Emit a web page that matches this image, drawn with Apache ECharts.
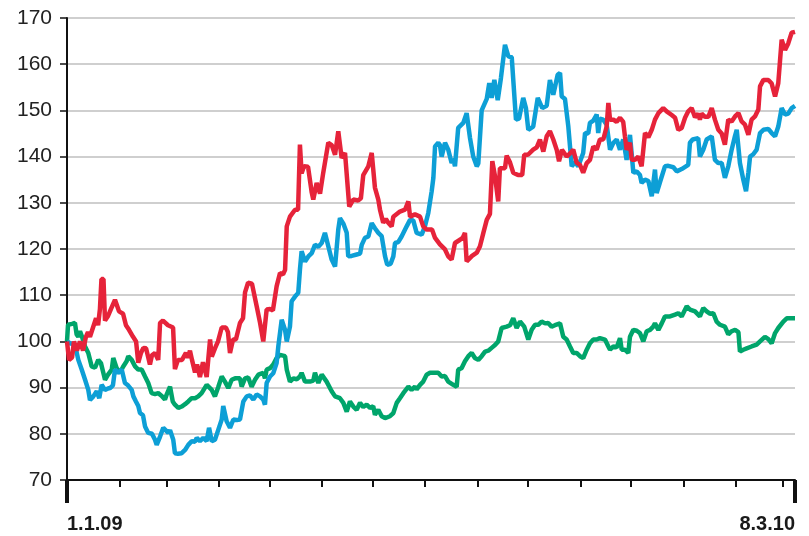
<!DOCTYPE html>
<html lang="en">
<head>
<meta charset="UTF-8">
<title>Index</title>
<script src="https://cdn.jsdelivr.net/npm/echarts@6/dist/echarts.min.js"></script>
<style>
  html, body { margin: 0; padding: 0; background: #fff; }
  #main { width: 809px; height: 536px; }
</style>
</head>
<body>
<div id="main"></div>
<script type="text/javascript">
// days counted from 1.1.09, index = 100 at start
var startLabel = '1.1.09';
var endLabel = '8.3.10';
var lastDay = 431;

var redDays = [0,1.2,3,4.1,5.9,7.7,9.5,11.2,12.4,13.6,15.4,17.2,18.4,19.5,20.4,21.6,22.5,24.3,26,28.4,30.8,33.2,34.9,36.7,39.1,40.9,42.2,43.8,45.2,46.8,49.1,50.3,52.1,54,55.1,56.8,59.8,62.8,63.9,65.7,68.1,70.4,71.6,72.8,74,75.8,77,78.7,80.5,82.7,84.7,85.7,87.6,89.4,91.6,94.1,95.3,96.5,98.3,100,102.4,104.2,105.4,107.2,109.5,112.3,114.3,116.2,118.2,120.2,121.9,124.1,126.1,127.9,129.1,130.1,132,135,136.8,137.9,138.9,140.3,142.7,144.9,145.8,147.8,149.8,151.7,154.7,156.7,158.7,160.6,162.6,164.6,167.1,169.5,172.3,174,175.4,178.4,180.4,182.3,184.3,185.3,187.2,188.8,190.2,192.2,193.2,197.1,200.1,202.1,203.1,206,209,210.9,212.9,216.1,217.9,220.8,223.8,225.7,227.7,229.7,232.7,234.4,235.6,236.6,239.8,242.6,244.5,246.5,248.5,250.4,251.8,253.4,255.3,256.3,259.3,260.3,262.3,264.2,267,269.5,270.7,272.9,276,278.1,280,282,284,285.9,287.9,289.9,291.3,293,295.8,297.8,299.7,301.7,303.7,305.6,307.7,309.6,311.6,313.6,315.5,317.5,319.5,320.5,321.5,323.5,325.4,327.4,329.3,330.3,331.3,333.3,334.3,336.2,338.2,340.2,342.2,344.2,346.2,348.1,350.1,353,355,358,360,361.9,363.9,365.9,367.8,369.8,371.8,373.7,374.7,375.7,377.7,379.7,381.7,383.6,385.6,387.6,389.5,391.5,393.5,395.5,397.5,399.4,401.4,403.4,405.3,407.3,409.3,410.3,412.3,415.2,417.2,419.2,421.1,423.1,425.1,427,429,431];
var redValues = [100,96,96.5,100,98,100,98,101,102,101,103,105,103.5,107,113.5,113.5,104.5,105.5,107,109,106.5,106,103.5,102.5,101,100,95.4,97.5,98.6,98.5,95,97,97.5,96,104,104.5,103.5,103,94,96,96,97.5,96.5,98,96,93.3,95,92.3,95.5,92.3,100.4,96.7,98.5,100,103,103,102,97.5,100.4,100.4,104,105,110.6,112.7,112.5,107.6,104,100,106.9,107,106.7,111.9,114.8,114.5,115.5,124.9,127,128.5,128.5,142.6,136.4,137.9,137.8,132.2,130.7,134.3,132,136.5,143,142.5,140.4,145.5,139.7,140.8,129.2,130.7,130.5,131,136,137.9,140.8,133.3,130.7,128.5,125.7,126.5,125.7,124.9,127,128.1,128.5,130.3,127,127.5,127,124.9,124.2,124.2,122.4,121,119.9,118.4,117.7,121.3,122,122.5,123.5,117.3,118.5,119.2,120.6,123.5,126.3,127.6,139,135.7,130.3,137.5,137.5,140.2,138.7,136.5,136,136,140.4,140.4,141.5,142,143.7,141.1,144.4,145.5,143.7,141.5,139,141.5,140,140.7,141.5,138.7,138.2,136.5,138.6,139.3,142.2,141.5,143.7,143.7,146.5,151.6,148,148,147.5,148.4,147.5,144.4,141.5,143,139.3,139.3,140,137.9,145.1,144.2,145.8,148,149.4,150.5,149.8,149,148.4,145.8,146.2,148.4,149.8,150.5,148.5,149.3,148,149.3,148.6,148.6,150.5,148,145.8,145,142.6,148,147.6,148.7,149.4,147.6,146.9,144.7,148,148.7,150.2,155.2,156.6,156.6,155.8,153,155.9,165.3,163.1,164.5,166.8,167];

var blueDays = [0,1.8,4.7,6.7,8.7,10.7,12.6,13.6,15.6,17.6,19.1,20.5,22.5,24.3,25.5,27.2,28.4,30.4,32.4,34.3,36.1,38.3,39.3,40.8,42.2,43.2,45,46.2,48.1,50.3,52.1,53.1,55.1,57,60,61,62.9,63.9,65.7,67.9,69.9,71.8,73.8,75.8,76.8,78.7,80.7,82.7,84.1,85.7,87.6,89.6,91.6,92.5,94.5,96.5,98.5,100.5,102.4,104.4,106.4,108.3,110.3,112.3,114.3,116.2,117.2,118.2,120.2,122.1,124.1,125.1,127.1,129.1,130.1,132,133,135,136.9,137.9,138.9,140.9,142.9,144.9,146.8,148.8,150.8,152.7,154.7,156.7,158.7,160.6,161.6,163.6,165.6,166.5,168.5,171.5,173.5,174.5,176.4,178.4,180.4,182.3,184.3,186.3,188.3,189.6,191.6,193.2,194.2,196.1,198.1,201.1,203.1,205,207,208,210,211.9,213.9,215.9,216.9,217.9,219.8,220.8,221.8,223.8,225.7,227.7,228.7,229.7,231.6,234.6,236.6,238.6,240.5,242.6,243.5,245.5,248.5,250,251.4,253,255,256.9,259.3,261.3,263.3,265.8,267.6,270.1,271.7,273.1,274.1,276,278.7,281.4,284,285.9,287.9,290.5,291.9,292.9,294.8,296.8,298.8,300.7,302.7,305.6,306.7,308.6,309.6,311.6,313.6,314.5,315.5,317.5,319.5,321.5,323.5,325.4,327.4,329.3,331.3,333.3,335.3,337.3,339.2,340.2,342.2,344.2,346.2,348.1,349.1,351.1,354,356,359,361,363.9,367.8,368.8,370.4,373.7,374.7,376.7,378.7,381.7,383.6,385.6,387.6,389.5,391.5,393.5,395.5,396.5,398.4,400.4,402,403.4,404.4,406.3,408.3,410.3,412.3,415.2,417.2,419.2,421.1,423.1,425.1,427,429,431];
var blueValues = [100,99.6,99.3,96,93.9,91.7,89.5,87.3,88.1,89.2,87.7,90.6,89.5,89.8,89.9,90.5,93.9,93.2,93.9,91,90.5,89.5,88.1,87,86,84.5,84,81.6,80.2,80,78.7,77.6,79.4,81.3,80.2,80.8,78.7,75.8,75.7,75.8,76.5,77.6,78.4,78.3,79.1,78.4,79.1,78.4,81.3,78.4,78.7,80.9,83.1,86,82.7,81.3,83.1,83,83.1,87,88.1,88.3,87.4,88.5,88.1,87.4,86.3,91,92.4,93.1,95.3,98.9,104.7,102.5,100,103.2,108.7,109.7,110.5,115.5,119.5,117.3,118.4,119.1,120.9,120.5,121.3,123.5,120.6,117.7,116.2,124.2,126.7,125.5,123.5,118.4,118.5,118.8,119,120.9,122.4,122.7,125.6,124.5,123.5,122.8,118.4,116.6,116.8,118.4,121.3,121.5,122.7,124.9,126.3,126.2,123.5,123.1,123.1,124.9,127.8,132.5,135.4,142.2,143,142.5,140,143,141.5,138.6,139.5,137.9,146.2,147.3,149.4,144,140,137.9,138.5,150,152.5,155.9,152.7,156.6,152.2,157,164.2,161.7,161.5,148,148.2,152.7,150.5,145.8,146,146.5,152.7,150.5,151,156.6,153.4,157.7,158.1,153,152.5,146.5,137.9,138.8,137.9,140.8,145.1,145,147.3,147.8,149.1,145.1,148.2,148,146.9,141.5,143,143.7,141.5,143.7,139.3,144.7,136.5,136.8,136,134.3,135,134.7,131.4,137.2,132.1,134.5,137.9,138,137.7,136.8,137.3,138.2,143,143.7,144,140,141.5,143.7,144.4,139.3,138.6,138.6,135.4,137.9,141.5,144.5,145.8,138.6,135,132.5,136.5,140,140.5,141.5,145.1,145.8,146,145.1,144.4,146.5,150.5,149.1,149.3,150.5,151];

var greenDays = [0,0.6,3,4.7,5.7,6.7,7.7,8.9,10.7,12.6,14.6,16.6,18.5,20.1,21.5,22.5,24.3,26.5,27.4,29.4,31.4,33.2,35.3,36.3,38.3,40.3,42.2,44.2,46.2,48.1,50.1,52.1,54,56.1,58,59,61,62.6,63.9,65.9,67.9,69.9,71.8,73.8,75.8,77.7,79.7,82.7,83.6,85.7,87.6,89.6,91.6,93.5,95.5,97.5,99.5,102.4,103.4,105.4,107.3,109.3,111.3,113.3,116.2,117.2,118.2,120.2,122.1,124.1,126.1,129.1,130.1,132,134,136,137.9,138.9,140.9,143.9,145.8,146.8,148.8,150.8,153.7,156.7,158.7,161.6,163.6,165.6,167.5,169.5,171.5,173.5,175.4,177.4,179.4,181.3,182.3,184.3,186.3,188.3,191.2,193.2,195.2,197.1,199.1,202.1,204,206,207,209,210.9,212.9,214.9,217.9,219.8,221.8,223.8,225.7,228.7,230.7,231.6,233.6,235.6,237.6,239.6,241.5,243.5,245.5,247.5,249.4,251.4,253.4,255.3,257.3,260.3,262.3,264.2,266.2,268.2,270.7,273.1,275.1,277.1,279,281,283,284.9,286.9,288.9,291.9,293.8,295.8,297.8,299.7,301.7,303.7,305.6,307.7,309.6,311.6,313.6,315.5,318.5,320.5,321.5,323.5,325.4,327.4,328.4,330.3,332.3,333.3,335.3,337.3,339.2,341.2,343.2,345.2,347.1,348.1,350.1,352.1,354,357,360,361.9,363.9,366.9,368.8,371.8,374.7,376.7,378.7,380.6,382.6,384.6,386.6,389.5,391.5,393.5,395.5,397.5,398.4,400.4,402.4,405.3,408.3,410.3,413.2,415.2,417.2,419.2,421.1,424.1,426.1,429,431];
var greenValues = [100,103.6,103.8,104,101.5,101,102.2,101,98.9,97.5,94.6,94.3,96,95.3,93.2,91.7,92.8,93.9,96.4,94.2,93.2,94.5,95.7,96.8,96,94.6,93.9,93.9,92.4,91,88.8,88.6,88.8,88.2,87.4,88.5,90.2,87,86.3,85.6,85.9,86.4,87,87.7,87.7,88.1,88.8,90.6,90.8,89.5,88.1,90.2,92.4,91.3,89.9,91.7,92,92,90.2,92,92.2,90.2,91.7,92.8,93.2,92,93.9,94.2,95,96.4,97.1,96.8,93.9,91.3,92,91.8,92.4,93.2,91.3,91.3,91.5,93.2,91,92.8,91.3,89.2,88.1,87.7,86.7,84.8,87,85.9,85.2,86.7,85.8,86.3,85.6,86,84.1,85.2,83.8,83.4,83.8,84.5,86.7,87.7,88.8,90.2,89.5,90.2,89.6,90.6,91.3,92.8,93.2,93.2,93.2,92.4,92.5,91.3,90.6,90.2,93.9,94.2,95.7,96.8,97.5,96.4,96,96.8,97.8,98,98.6,99.2,100,102.9,103.2,103.5,105,102.9,104.3,103.2,100.4,102.5,103.6,103.6,104.3,103.9,104,103.2,103.5,103.9,101,100.4,98.9,97.5,97.5,96.8,96.4,98.2,99.6,100.4,100.4,100.7,100.4,98.9,98.2,98.9,98.7,100.7,98.2,98.2,97.5,101,102.5,102.3,101.8,100,102.2,102.5,103.2,103.9,102.5,103.9,105.4,105.4,105.8,106.1,105.4,107.6,106.9,106.5,105.4,107.2,106.5,106,106.1,104.3,103.6,103.2,101.5,102.2,102.5,102,97.8,98.2,98.5,98.9,99.3,100,101,100.5,99.6,101.8,102.9,104.3,105,105,105];

var yTicks = { min: 70, max: 170, step: 10 };

// month starts as day offsets, for the small x ticks
var t0 = Date.UTC(2009, 0, 1);
var monthTicks = [];
for (var m = 1; m <= 14; m++) {
    monthTicks.push((Date.UTC(2009, m, 1) - t0) / 86400000);
}

function pairs(xs, ys) {
    return xs.map(function (d, i) { return [d, ys[i]]; });
}

var myChart = echarts.init(document.getElementById('main'));
var font = '"Liberation Sans", Arial, sans-serif';

var option = {
    animation: false,
    backgroundColor: '#ffffff',
    grid: { left: 67, right: 14, top: 18, bottom: 56 },
    xAxis: [{
        type: 'value',
        min: 0,
        max: lastDay,
        axisLine: { show: true, lineStyle: { color: '#111', width: 2 } },
        axisTick: { show: true, customValues: monthTicks, length: 7, lineStyle: { color: '#111', width: 2 } },
        axisLabel: { show: false },
        splitLine: { show: false }
    }, {
        type: 'value',
        position: 'bottom',
        min: 0,
        max: lastDay,
        axisLine: { show: false },
        axisTick: { show: true, customValues: [0, lastDay], length: 23, lineStyle: { color: '#111', width: 4 } },
        axisLabel: {
            show: true,
            customValues: [0, lastDay],
            formatter: function (v) { return v === 0 ? startLabel : endLabel; },
            fontFamily: font,
            fontWeight: 'bold',
            fontSize: 20,
            color: '#1a1a1a',
            margin: 34,
            alignMinLabel: 'left',
            alignMaxLabel: 'right'
        },
        splitLine: { show: false }
    }],
    yAxis: {
        type: 'value',
        min: yTicks.min,
        max: yTicks.max,
        interval: yTicks.step,
        axisLine: { show: true, lineStyle: { color: '#111', width: 2 } },
        axisTick: { show: true, length: 7, lineStyle: { color: '#111', width: 1.5 } },
        axisLabel: { fontFamily: font, fontSize: 21, color: '#222', margin: 15 },
        splitLine: { show: true, lineStyle: { color: '#cfcfcf', width: 2 } }
    },
    series: [{
        name: 'green',
        type: 'line',
        showSymbol: false,
        data: pairs(greenDays, greenValues),
        lineStyle: { color: '#00a56b', width: 4.5 }
    }, {
        name: 'blue',
        type: 'line',
        showSymbol: false,
        data: pairs(blueDays, blueValues),
        lineStyle: { color: '#0d9fd6', width: 4.5 }
    }, {
        name: 'red',
        type: 'line',
        showSymbol: false,
        data: pairs(redDays, redValues),
        lineStyle: { color: '#e6233a', width: 4.5 }
    }]
};
myChart.setOption(option);
</script>
</body>
</html>
